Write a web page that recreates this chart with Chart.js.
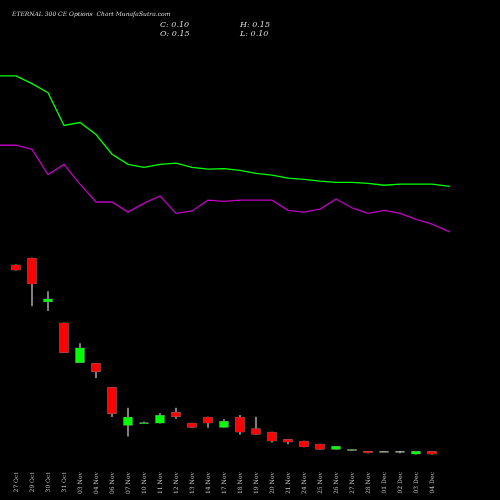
<!DOCTYPE html>
<html lang="en">
<head>
<meta charset="UTF-8">
<title>ETERNAL 300 CE Options Chart</title>
<script src="https://cdn.jsdelivr.net/npm/chart.js"></script>
<style>
  html, body { margin: 0; padding: 0; background: #000; }
  #wrap { width: 500px; height: 500px; }
</style>
</head>
<body>
<div id="wrap"><canvas id="chart" width="500" height="500"></canvas></div>
<script>
// Candle data
const dates = ['27 Oct','29 Oct','30 Oct','31 Oct','03 Nov','04 Nov','06 Nov','07 Nov','10 Nov','11 Nov','12 Nov','13 Nov','14 Nov','17 Nov','18 Nov','19 Nov','20 Nov','21 Nov','24 Nov','25 Nov','26 Nov','27 Nov','28 Nov','01 Dec','02 Dec','03 Dec','04 Dec'];
const opens  = [3.27,3.38,2.65,2.30,1.63,1.62,1.22,0.58,0.63,0.62,0.80,0.62,0.72,0.55,0.72,0.53,0.47,0.35,0.32,0.27,0.18,0.18,0.15,0.15,0.15,0.10,0.15];
const highs  = [3.27,3.38,2.82,2.30,1.95,1.62,1.22,0.87,0.64,0.78,0.87,0.62,0.72,0.68,0.75,0.72,0.47,0.35,0.32,0.27,0.23,0.18,0.15,0.15,0.15,0.15,0.15];
const lows   = [3.18,2.58,2.50,1.80,1.63,1.38,0.73,0.40,0.63,0.62,0.70,0.55,0.55,0.55,0.43,0.43,0.30,0.27,0.22,0.18,0.18,0.17,0.12,0.15,0.12,0.10,0.10];
const closes = [3.18,2.95,2.70,1.80,1.88,1.48,0.78,0.72,0.64,0.75,0.73,0.55,0.62,0.65,0.47,0.43,0.32,0.30,0.22,0.18,0.23,0.17,0.12,0.15,0.15,0.15,0.10];
// Overlay lines (index positions, -1 and 27.1 are the chart edges)
const lineX   = [-1,0,1,2,3,4,5,6,7,8,9,10,11,12,13,14,15,16,17,18,19,20,21,22,23,24,25,26,27.1];
const greenMA = [6.43,6.43,6.30,6.15,5.60,5.65,5.45,5.12,4.95,4.90,4.95,4.97,4.90,4.87,4.88,4.85,4.80,4.77,4.72,4.70,4.67,4.65,4.65,4.63,4.60,4.62,4.62,4.62,4.58];
const pinkMA  = [5.27,5.27,5.20,4.78,4.95,4.62,4.32,4.32,4.15,4.30,4.42,4.13,4.17,4.35,4.33,4.35,4.35,4.35,4.18,4.15,4.20,4.37,4.22,4.13,4.18,4.13,4.03,3.95,3.82];

const bodyColor = opens.map((o, i) => {
  if (i === 21) return '#5a9a5a';
  if (i === 23 || i === 24) return '#cce8cc';
  return closes[i] >= opens[i] ? '#00ff00' : '#ff0000';
});
const bodies = opens.map((o, i) => {
  let a = o, b = closes[i];
  if (Math.abs(a - b) < 0.02) b = a - 0.02;
  return { x: i, y: [a, b] };
});
const wicks = opens.map((o, i) => ({ x: i, y: [lows[i], highs[i]] }));

const headerPlugin = {
  id: 'header',
  afterDraw(chart) {
    const c = chart.ctx;
    c.save();
    c.fillStyle = '#ddd';
    c.font = 'italic 6px "DejaVu Serif", serif';
    c.fillText('ETERNAL 300 CE Options  Chart MunafaSutra.com', 12, 16);
    c.font = 'italic 8px "DejaVu Serif", serif';
    c.fillText('C: 0.10', 160, 27);
    c.fillText('O: 0.15', 160, 36);
    c.fillText('H: 0.15', 240, 27);
    c.fillText('L: 0.10', 240, 36);
    c.restore();
  }
};

new Chart(document.getElementById('chart'), {
  type: 'bar',
  data: {
    datasets: [
      { type: 'line', data: lineX.map((x, i) => ({ x, y: greenMA[i] })), borderColor: '#00ff00', borderWidth: 1.3, pointRadius: 0, tension: 0 },
      { type: 'line', data: lineX.map((x, i) => ({ x, y: pinkMA[i] })), borderColor: '#c000c0', borderWidth: 1.3, pointRadius: 0, tension: 0 },
      { data: wicks, backgroundColor: '#999', barThickness: 1, grouped: false, order: 2 },
      { data: bodies, backgroundColor: bodyColor, borderColor: '#777', borderWidth: 0.5, borderSkipped: false, barThickness: 9, grouped: false, order: 1 }
    ]
  },
  options: {
    responsive: false,
    animation: false,
    layout: { padding: 0 },
    plugins: { legend: { display: false }, tooltip: { enabled: false } },
    scales: {
      x: {
        type: 'linear', min: -1, max: 30.25, offset: false,
        grid: { display: false }, border: { display: false },
        afterBuildTicks(s) { s.ticks = dates.map((d, i) => ({ value: i })); },
        ticks: {
          callback: (v) => dates[v] !== undefined ? dates[v] : '',
          color: '#bbb', font: { size: 6, family: '"DejaVu Serif", serif' },
          minRotation: 90, maxRotation: 90, padding: 6, autoSkip: false
        }
      },
      y: { min: 0.033, max: 7.7, display: false }
    }
  },
  plugins: [headerPlugin]
});
</script>
</body>
</html>
